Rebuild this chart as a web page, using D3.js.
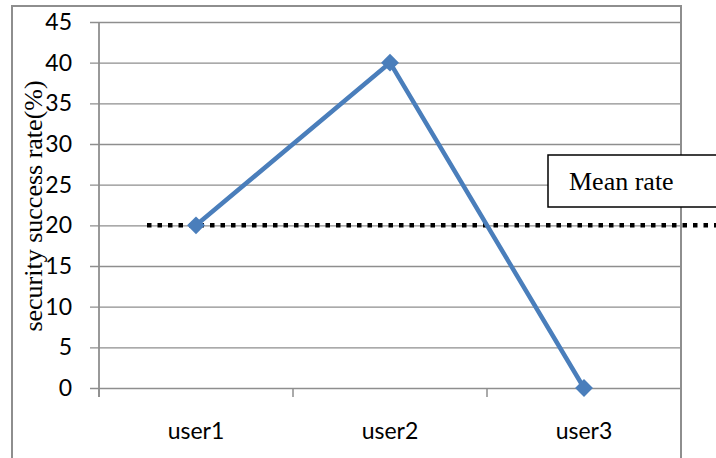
<!DOCTYPE html>
<html><head><meta charset="utf-8">
<script src="https://cdn.jsdelivr.net/npm/d3@7"></script>
<style>body{margin:0;background:#fff}svg{display:block}</style>
</head><body>
<svg id="c" width="716" height="458"></svg>
<script>
const categories = ["user1","user2","user3"];
const values = [20,40,0];
const meanValue = 20;
const yTicks = [0,5,10,15,20,25,30,35,40,45];
const yTitle = "security success rate(%)";
const meanLabel = "Mean rate";

const svg = d3.select("#c");
const x = d3.scaleBand().domain(categories).range([99,681]);
const y = d3.scaleLinear().domain([0,45]).range([388,22]);
const grey = "#8e8e8e";

// outer border
svg.append("rect").attr("x",12).attr("y",6).attr("width",669).attr("height",470)
  .attr("fill","none").attr("stroke",grey).attr("stroke-width",2);

// y axis with gridlines
const yAxis = d3.axisLeft(y).tickValues(yTicks).tickSize(-(681-99)).tickFormat(d3.format("d"));
const gy = svg.append("g").attr("transform","translate(99,0)").call(yAxis);
gy.select(".domain").remove();
gy.selectAll(".tick line").attr("stroke",grey).attr("stroke-width",1.3).attr("x1",-9);
gy.selectAll(".tick text").attr("font-family","Lato, sans-serif").attr("font-size",23).attr("fill","#000").attr("x",-27);

// x axis
const gx = svg.append("g").attr("transform","translate(0,388)")
  .call(d3.axisBottom(x).tickSize(0).tickPadding(0));
gx.select(".domain").remove();
gx.selectAll(".tick text").attr("font-family","Lato, sans-serif").attr("font-size",23).attr("fill","#000").attr("y",51).attr("dy",0);
// x tick marks at band boundaries
const bounds = categories.map(c=>x(c)).concat([x.range()[1]]);
svg.append("g").selectAll("line").data(bounds).join("line")
  .attr("x1",d=>d).attr("x2",d=>d).attr("y1",388).attr("y2",397)
  .attr("stroke",grey).attr("stroke-width",1.5);
// y axis line
svg.append("line").attr("x1",99).attr("x2",99).attr("y1",y(45)).attr("y2",397)
  .attr("stroke",grey).attr("stroke-width",1.8);

// y title
svg.append("text").attr("transform","translate(42,206) rotate(-90)")
  .attr("text-anchor","middle").attr("font-family","Liberation Serif, Times New Roman, serif")
  .attr("font-size",26).attr("fill","#000").text(yTitle);

// mean dotted line
svg.append("line").attr("x1",147).attr("x2",716).attr("y1",y(meanValue)).attr("y2",y(meanValue))
  .attr("stroke","#000").attr("stroke-width",4.5).attr("stroke-dasharray","4.5,6");

// mean label box
svg.append("rect").attr("x",548).attr("y",155).attr("width",180).attr("height",52)
  .attr("fill","#fff").attr("stroke","#000").attr("stroke-width",1.5);
svg.append("text").attr("x",569).attr("y",190).attr("font-family","Liberation Serif, Times New Roman, serif")
  .attr("font-size",26).attr("fill","#000").text(meanLabel);

// series line
const cx = d=>x(d)+x.bandwidth()/2;
const pts = categories.map((c,i)=>[cx(c),y(values[i])]);
svg.append("path").attr("d",d3.line()(pts)).attr("fill","none")
  .attr("stroke","#4A7EBB").attr("stroke-width",4.5).attr("stroke-linejoin","round");
svg.append("g").selectAll("path").data(pts).join("path")
  .attr("transform",d=>`translate(${d[0]},${d[1]}) rotate(45)`)
  .attr("d",d3.symbol(d3.symbolSquare,160)())
  .attr("fill","#4A7EBB");
</script>
</body></html>
